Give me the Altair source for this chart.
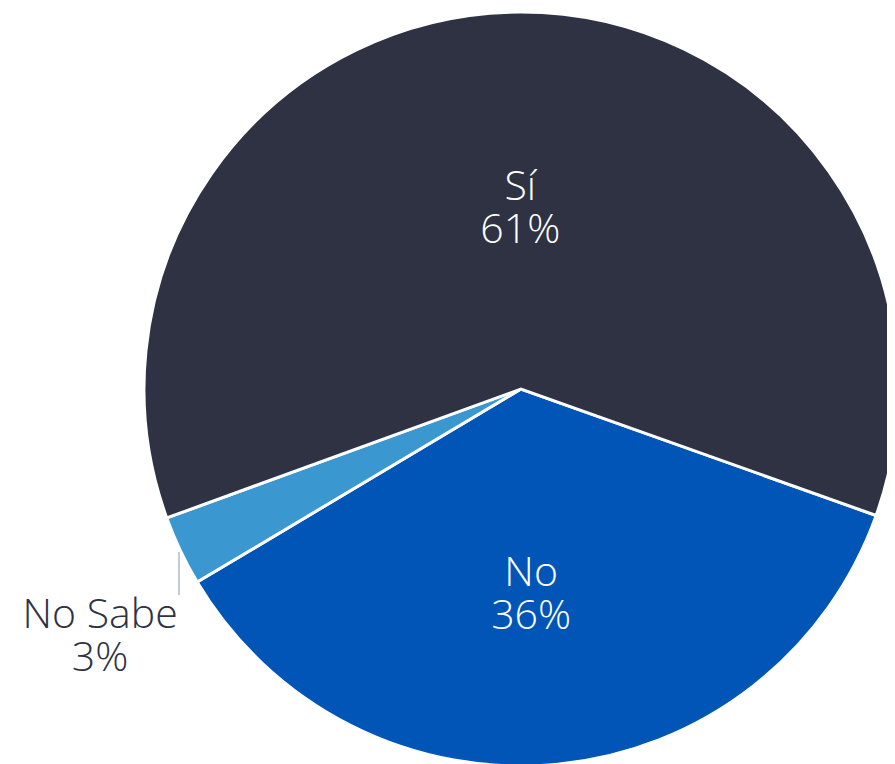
import math
import altair as alt
import pandas as pd

categories = ["No", "No Sabe", "Sí"]
values = [36, 3, 61]
colors = ["#0055b7", "#3b97cf", "#2e3242"]

df = pd.DataFrame({"cat": categories, "val": values, "ord": list(range(len(categories)))})

W, H = 879, 756
CX, CY = 513, 381
R = 377
start = math.radians(109.6)

base = alt.Chart(df).transform_calculate(
    label="datum.cat + '\\n' + datum.val + '%'"
)

theta = alt.Theta("val:Q", stack=True, scale=alt.Scale(range=[start, start + 2 * math.pi]))

pie = base.mark_arc(outerRadius=R, stroke="white", strokeWidth=3, x=CX, y=CY).encode(
    theta=theta,
    color=alt.Color("cat:N", scale=alt.Scale(domain=categories, range=colors), legend=None),
    order=alt.Order("ord:Q"),
)

def lbl(cat, radius, color, dx=0, dy=0):
    return base.mark_text(
        x=CX, y=CY, radius=radius, dx=dx, dy=dy, font="Open Sans", fontWeight=300, fontSize=41,
        lineBreak="\n", lineHeight=43, align="center", baseline="middle", color=color,
    ).encode(
        theta=theta,
        text="label:N",
        order=alt.Order("ord:Q"),
        opacity=alt.condition(alt.datum.cat == cat, alt.value(1), alt.value(0)),
    )

lbl_si = lbl("Sí", 201, "white")
lbl_no = lbl("No", 186, "white", dx=-8)
lbl_ns = lbl("No Sabe", 466, "#2e3242", dy=27)

leader = alt.Chart(pd.DataFrame({"a": [0]})).mark_rule(color="#b1bac9", strokeWidth=1.5).encode(
    x=alt.value(171), y=alt.value(544), y2=alt.value(587)
)

chart = alt.layer(pie, leader, lbl_si, lbl_no, lbl_ns).properties(
    width=W, height=H, padding=0, autosize=alt.AutoSizeParams(type="none")
).configure_view(stroke=None, clip=True)

chart.save("out.html", embed_options={"renderer": "svg", "actions": False})
